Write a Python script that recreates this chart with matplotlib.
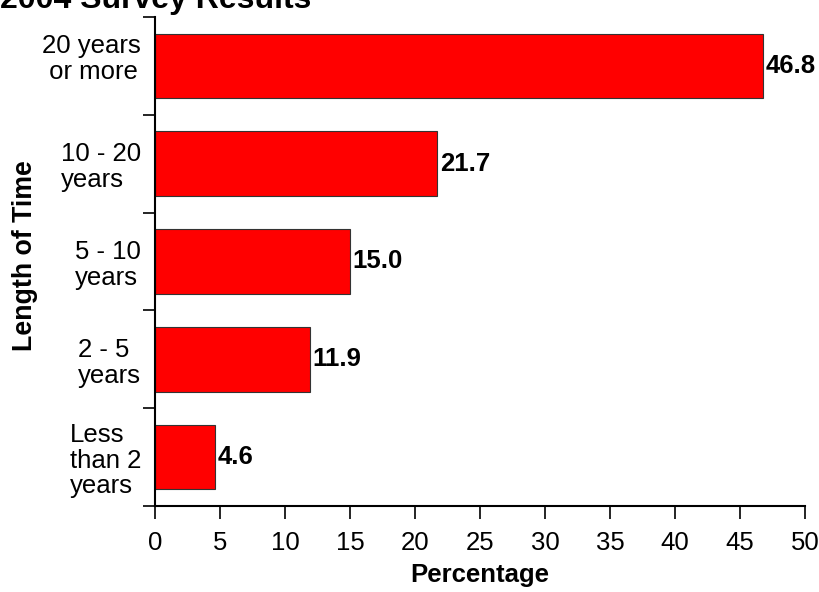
import matplotlib
matplotlib.use("Agg")
import matplotlib.pyplot as plt
from matplotlib.transforms import ScaledTranslation
import numpy as np

# Survey data: length of time vs percentage
categories = ["Less\nthan 2\nyears", "2 - 5\nyears", "5 - 10\nyears",
              "10 - 20\nyears", "20 years\n or more"]
percentages = [4.6, 11.9, 15.0, 21.7, 46.8]
x_ticks = list(range(0, 51, 5))

plt.rcParams["font.family"] = ["Liberation Sans", "DejaVu Sans"]
FS = 18.5

fig = plt.figure(figsize=(8.2, 5.92), dpi=100)
ax = fig.add_axes([155 / 820, 1 - 506 / 592, 650 / 820, 489 / 592])

pos = np.arange(len(categories))
ax.barh(pos, percentages, height=0.66, color="#ff0000",
        edgecolor="#333333", linewidth=0.8)

for y, v in zip(pos, percentages):
    ax.text(v + 0.2, y, "%.1f" % v, va="center", ha="left",
            fontsize=FS, fontweight="bold")

ax.set_xlim(0, 50)
ax.set_ylim(-0.5, len(categories) - 0.5)
ax.set_xticks(x_ticks)
ax.set_yticks(pos)
ax.set_yticklabels(categories, fontsize=FS, linespacing=1.1,
                   multialignment="left")
ax.set_yticks(np.arange(-0.5, len(categories), 1.0), minor=True)
ax.tick_params(axis="y", which="major", length=0, pad=10)
ax.tick_params(axis="y", which="minor", length=9, width=1.2)
ax.tick_params(axis="x", length=9, width=1.2, labelsize=FS, pad=9)

# top label sits a little above its bar in the original
top = ax.get_yticklabels()[-1]
top.set_transform(top.get_transform()
                  + ScaledTranslation(0, 0.1, fig.dpi_scale_trans))

for side in ["top", "right"]:
    ax.spines[side].set_visible(False)
for side in ["left", "bottom"]:
    ax.spines[side].set_linewidth(1.5)

ax.set_xlabel("Percentage", fontsize=FS, fontweight="bold", labelpad=6)
ax.set_ylabel("Length of Time", fontsize=19.3, fontweight="bold")
ax.yaxis.set_label_coords(-0.180, 0.513)

fig.text(0.0, 1 - 8 / 592, "2004 Survey Results", fontsize=23,
         fontweight="bold", ha="left", va="baseline")

fig.savefig("out.png", dpi=100)
